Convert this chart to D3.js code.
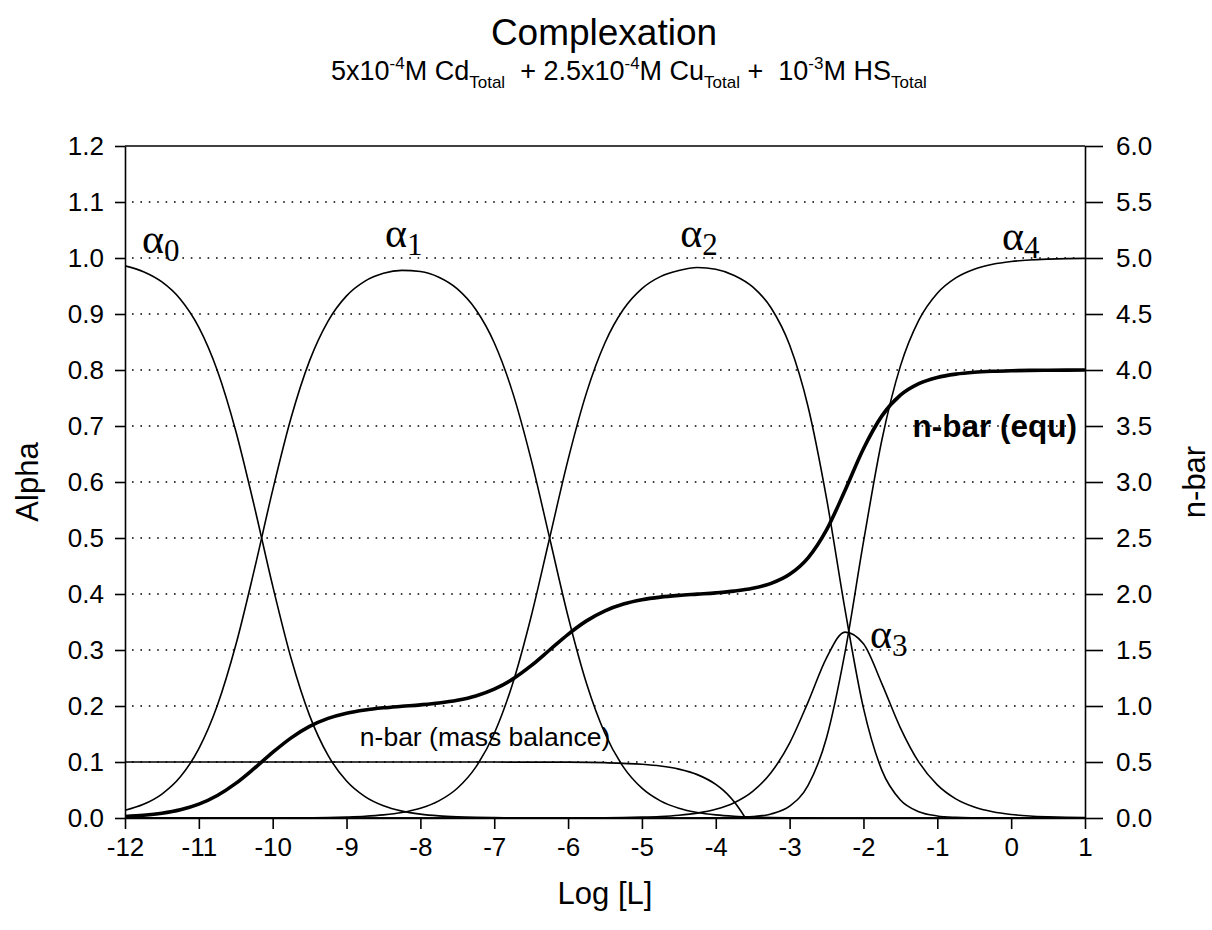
<!DOCTYPE html>
<html>
<head>
<meta charset="utf-8">
<script src="https://cdn.jsdelivr.net/npm/d3@7"></script>
<style>
  html, body { margin: 0; padding: 0; background: #fff; }
  svg { display: block; }
  text { font-family: "Liberation Sans", Arial, sans-serif; fill: #000; }
</style>
</head>
<body>
<svg id="chart" width="1212" height="930"></svg>
<script>
// log [L] grid the curves were read at
const logL = [
  -12, -11.75, -11.5, -11.25, -11, -10.75, -10.5, -10.25, -10, -9.75, -9.5, -9.25,
  -9, -8.75, -8.5, -8.25, -8, -7.75, -7.5, -7.25, -7, -6.75, -6.5, -6.25,
  -6, -5.75, -5.5, -5.25, -5, -4.75, -4.5, -4.25, -4, -3.75, -3.5, -3.25,
  -3, -2.75, -2.5, -2.25, -2, -1.75, -1.5, -1.25, -1, -0.75, -0.5, -0.25,
  0, 0.25, 0.5, 0.75, 1
];

const alpha0 = [
  0.986, 0.9755, 0.9572, 0.9264, 0.8762, 0.7992, 0.6912, 0.5573, 0.4144, 0.2847, 0.1828, 0.1117,
  0.0660, 0.0382, 0.0218, 0.0123, 0.0069, 0.0038, 0.0021, 0.0011, 0.0006, 0.0003, 0.0001, 0,
  0, 0, 0, 0, 0, 0, 0, 0, 0, 0, 0, 0,
  0, 0, 0, 0, 0, 0, 0, 0, 0, 0, 0, 0,
  0, 0, 0, 0, 0
];

const alpha1 = [
  0.0139, 0.0245, 0.0428, 0.0736, 0.1238, 0.2008, 0.3088, 0.4427, 0.5855, 0.7151, 0.8167, 0.8874,
  0.9324, 0.9588, 0.9728, 0.9779, 0.9758, 0.9656, 0.9448, 0.9081, 0.8487, 0.7596, 0.6400, 0.5000,
  0.3599, 0.2402, 0.1509, 0.0908, 0.0532, 0.0306, 0.0174, 0.0098, 0.0055, 0.0031, 0.0017, 0.0009,
  0.0005, 0.0002, 0.0001, 0, 0, 0, 0, 0, 0, 0, 0, 0,
  0, 0, 0, 0, 0
];

const alpha2 = [
  0, 0, 0, 0, 0, 0, 0, 0, 0.0001, 0.0002, 0.0005, 0.0009,
  0.0017, 0.0030, 0.0055, 0.0098, 0.0173, 0.0305, 0.0531, 0.0908, 0.1509, 0.2402, 0.3599, 0.5000,
  0.6400, 0.7596, 0.8487, 0.9084, 0.9453, 0.9667, 0.9777, 0.9830, 0.9800, 0.9689, 0.9484, 0.9107,
  0.8445, 0.7344, 0.5707, 0.3724, 0.1962, 0.0850, 0.0321, 0.0112, 0.0037, 0.0012, 0.0004, 0.0001,
  0, 0, 0, 0, 0
];

const alpha3 = [
  0, 0, 0, 0, 0, 0, 0, 0, 0, 0, 0, 0,
  0, 0, 0, 0, 0, 0, 0, 0, 0, 0, 0, 0,
  0.0001, 0.0002, 0.0004, 0.0008, 0.0015, 0.0027, 0.0049, 0.0087, 0.0155, 0.0273, 0.0475, 0.0812,
  0.1338, 0.2070, 0.2860, 0.3319, 0.3110, 0.2396, 0.1610, 0.0997, 0.0591, 0.0342, 0.0196, 0.0111,
  0.0063, 0.0035, 0.0020, 0.0011, 0.0006
];

const alpha4 = [
  0, 0, 0, 0, 0, 0, 0, 0, 0, 0, 0, 0,
  0, 0, 0, 0, 0, 0, 0, 0, 0, 0, 0, 0,
  0, 0, 0, 0, 0, 0, 0, 0.0001, 0.0003, 0.0008, 0.0024, 0.0072,
  0.0212, 0.0583, 0.1433, 0.2958, 0.4929, 0.6754, 0.8069, 0.8891, 0.9372, 0.9646, 0.9801, 0.9888,
  0.9937, 0.9965, 0.9980, 0.9989, 0.9994
];

// n-bar from the equilibria (right axis)
const nbarEqu = [
  0.0139, 0.0245, 0.0428, 0.0736, 0.1238, 0.2008, 0.3088, 0.4427, 0.5857, 0.7155, 0.8176, 0.8892,
  0.9358, 0.9648, 0.9838, 0.9975, 1.0104, 1.0266, 1.0511, 1.0897, 1.1505, 1.2400, 1.3598, 1.5000,
  1.6402, 1.7600, 1.8495, 1.9100, 1.9483, 1.9721, 1.9876, 1.9990, 2.0104, 2.0259, 2.0506, 2.0947,
  2.1757, 2.3232, 2.5727, 2.9237, 3.2970, 3.5904, 3.7748, 3.8779, 3.9335, 3.9634, 3.9800, 3.9887,
  3.9937, 3.9965, 3.9980, 3.9989, 3.9994
];

// n-bar from the mass balance (right axis)
const massLogL = [-12, -11, -10, -9, -8, -7, -6, -5.5, -5, -4.75, -4.5, -4.25, -4, -3.9, -3.8, -3.7, -3.65, -3.6];
const nbarMass = [0.5, 0.5, 0.5, 0.5, 0.5, 0.4998, 0.498, 0.4937, 0.48, 0.4644, 0.4368, 0.3875, 0.30, 0.2482, 0.1830, 0.1010, 0.0522, 0];

const alphaTicks = [0, 0.1, 0.2, 0.3, 0.4, 0.5, 0.6, 0.7, 0.8, 0.9, 1.0, 1.1, 1.2];
const nbarTicks = [0, 0.5, 1, 1.5, 2, 2.5, 3, 3.5, 4, 4.5, 5, 5.5, 6];
const logTicks = [-12, -11, -10, -9, -8, -7, -6, -5, -4, -3, -2, -1, 0, 1];
const gridValues = [0.1, 0.2, 0.3, 0.4, 0.5, 0.6, 0.7, 0.8, 0.9, 1.0, 1.1];

const margin = { top: 146, right: 127, bottom: 112, left: 125 };
const width = 1212, height = 930;
const plotW = width - margin.left - margin.right,
  plotH = height - margin.top - margin.bottom;

const svg = d3.select("#chart");
const g = svg.append("g").attr("transform", `translate(${margin.left},${margin.top})`);

const x = d3.scaleLinear().domain([-12, 1]).range([0, plotW]);
const y = d3.scaleLinear().domain([0, 1.2]).range([plotH, 0]);
const y2 = d3.scaleLinear().domain([0, 6]).range([plotH, 0]);

// titles
svg.append("text")
  .attr("x", 604).attr("y", 45)
  .attr("text-anchor", "middle")
  .attr("font-size", 37)
  .text("Complexation");

const sub = svg.append("text")
  .attr("x", 331).attr("y", 80)
  .attr("font-size", 27)
  .style("white-space", "pre");
const subParts = [
  ["5x10", 0, 27], ["-4", -11, 17], ["M Cd", 11, 27], ["Total", 8, 17],
  ["  + 2.5x10", -8, 27], ["-4", -11, 17], ["M Cu", 11, 27], ["Total", 8, 17],
  [" +  10", -8, 27], ["-3", -11, 17], ["M HS", 11, 27], ["Total", 8, 17]
];
subParts.forEach(([t, dy, fs]) => {
  sub.append("tspan").attr("dy", dy).attr("font-size", fs).text(t);
});

// gridlines
g.append("g")
  .selectAll("line")
  .data(gridValues)
  .join("line")
    .attr("x1", 7)
    .attr("x2", plotW - 6)
    .attr("y1", d => y(d))
    .attr("y2", d => y(d))
    .attr("stroke", "#000")
    .attr("stroke-width", 1.6)
    .attr("stroke-dasharray", "1.6,6.8");

// axes
const axisLeft = d3.axisLeft(y)
  .tickValues(alphaTicks)
  .tickFormat(d3.format(".1f"))
  .tickSizeInner(10).tickSizeOuter(0).tickPadding(11);
const axisRight = d3.axisRight(y2)
  .tickValues(nbarTicks)
  .tickFormat(d3.format(".1f"))
  .tickSizeInner(18).tickSizeOuter(0).tickPadding(13);
const axisBottom = d3.axisBottom(x)
  .tickValues(logTicks)
  .tickFormat(d => String(d))
  .tickSizeInner(11).tickSizeOuter(0).tickPadding(9);

const styleAxis = sel => {
  sel.selectAll("path").attr("stroke", "#000").attr("stroke-width", 1.6);
  sel.selectAll("line").attr("stroke", "#000").attr("stroke-width", 1.6);
  sel.selectAll("text")
    .attr("font-size", 26)
    .attr("font-family", "Liberation Sans, Arial, sans-serif")
    .attr("fill", "#000");
};

g.append("g").call(axisLeft).call(styleAxis);
g.append("g").attr("transform", `translate(${plotW},0)`).call(axisRight).call(styleAxis);
g.append("g").attr("transform", `translate(0,${plotH})`).call(axisBottom).call(styleAxis);
g.append("line")
  .attr("x1", 0).attr("x2", plotW)
  .attr("y1", 0).attr("y2", 0)
  .attr("stroke", "#000").attr("stroke-width", 1.6);

// curves
g.append("clipPath").attr("id", "plot-clip")
  .append("rect").attr("x", 0).attr("y", -2).attr("width", plotW).attr("height", plotH + 4);

const curves = g.append("g").attr("clip-path", "url(#plot-clip)");

const alphaLine = d3.line()
  .x((d, i) => x(logL[i]))
  .y(d => y(d))
  .curve(d3.curveMonotoneX);

[alpha0, alpha1, alpha2, alpha3, alpha4].forEach(series => {
  curves.append("path")
    .datum(series)
    .attr("fill", "none")
    .attr("stroke", "#000")
    .attr("stroke-width", 1.6)
    .attr("d", alphaLine);
});

curves.append("path")
  .datum(nbarMass)
  .attr("fill", "none")
  .attr("stroke", "#000")
  .attr("stroke-width", 1.7)
  .attr("d", d3.line()
    .x((d, i) => x(massLogL[i]))
    .y(d => y2(d))
    .curve(d3.curveMonotoneX));

curves.append("path")
  .datum(nbarEqu)
  .attr("fill", "none")
  .attr("stroke", "#000")
  .attr("stroke-width", 3.6)
  .attr("d", d3.line()
    .x((d, i) => x(logL[i]))
    .y(d => y2(d))
    .curve(d3.curveMonotoneX));

// curve labels: serif alpha with a lowered index
const alphaLabels = [
  { sub: "0", lx: -11.77, ly: 1.009 },
  { sub: "1", lx: -8.48, ly: 1.020 },
  { sub: "2", lx: -4.48, ly: 1.020 },
  { sub: "3", lx: -1.91, ly: 0.304 },
  { sub: "4", lx: -0.125, ly: 1.014 }
];
alphaLabels.forEach(l => {
  const t = g.append("text")
    .attr("x", x(l.lx))
    .attr("y", y(l.ly))
    .style("font-family", "'Liberation Serif', 'Times New Roman', serif")
    .attr("font-size", 42);
  t.append("tspan").text("\u03b1");
  t.append("tspan").attr("dy", 8).attr("font-size", 31).text(l.sub);
});

g.append("text")
  .attr("x", x(-8.82))
  .attr("y", y2(0.64))
  .attr("font-size", 26.5)
  .text("n-bar (mass balance)");

g.append("text")
  .attr("x", plotW - 8)
  .attr("y", y2(3.4))
  .attr("text-anchor", "end")
  .attr("font-size", 31.5)
  .attr("font-weight", "bold")
  .text("n-bar (equ)");

// axis titles
svg.append("text")
  .attr("transform", `translate(38,${margin.top + plotH / 2}) rotate(-90)`)
  .attr("text-anchor", "middle")
  .attr("font-size", 31)
  .text("Alpha");

svg.append("text")
  .attr("transform", `translate(1205,${margin.top + plotH / 2}) rotate(-90)`)
  .attr("text-anchor", "middle")
  .attr("font-size", 31)
  .text("n-bar");

svg.append("text")
  .attr("x", margin.left + plotW / 2)
  .attr("y", 904)
  .attr("text-anchor", "middle")
  .attr("font-size", 31)
  .text("Log [L]");
</script>
</body>
</html>
